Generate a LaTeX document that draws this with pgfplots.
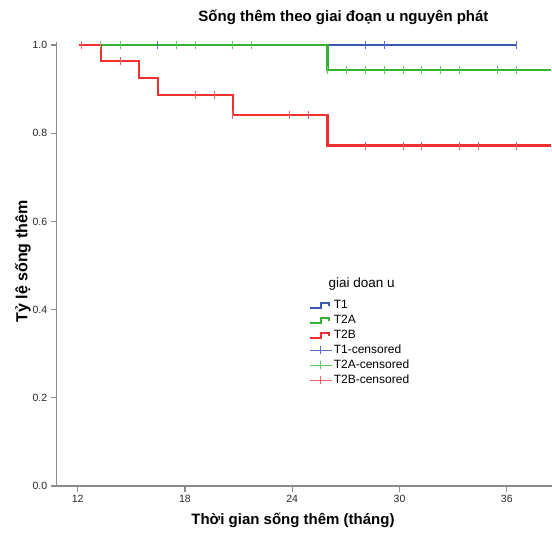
\documentclass[border=0pt]{standalone}
\usepackage{pgfplots}
\pgfplotsset{compat=1.18}
\usepackage{fontspec}
\setmainfont{Liberation Sans}
\definecolor{kmblue}{RGB}{62,88,178}
\definecolor{kmgreen}{RGB}{52,178,52}
\definecolor{kmred}{RGB}{238,48,48}
\definecolor{cblue}{RGB}{90,110,205}
\definecolor{cgreen}{RGB}{95,200,95}
\definecolor{cred}{RGB}{245,95,95}
\definecolor{axgray}{RGB}{140,140,140}
\pgfplotsset{
  stepleg/.style={legend image code/.code={\draw[##1,line width=2.2pt] (0pt,-2.5pt) -- (11pt,-2.5pt) -- (11pt,2.5pt) -- (19pt,2.5pt) -- (19pt,-1pt);}},
  censleg/.style={legend image code/.code={\draw[##1,line width=1pt] (0pt,0pt) -- (22pt,0pt) (11pt,-4pt) -- (11pt,4pt);}},
}
\begin{document}
\begin{tikzpicture}
\path[use as bounding box] (0pt,0pt) rectangle (552pt,537pt);
\begin{axis}[
  at={(56.7pt,51pt)}, anchor=south west,
  scale only axis, width=495.3pt, height=444.3pt,
  xmin=10.825, xmax=38.53, ymin=0, ymax=1.0075,
  clip=false,
  axis lines*=left,
  axis line style={draw=axgray, line width=1.3pt, -},
  tick align=outside, major tick length=6pt,
  tick style={draw=axgray, line width=1.2pt},
  xtick={12,18,24,30,36}, xticklabels={12,18,24,30,36},
  ytick={0,0.2,0.4,0.6,0.8,1}, yticklabels={0.0,0.2,0.4,0.6,0.8,1.0},
  ticklabel style={font=\fontsize{10.5}{12}\selectfont, text=black!85},
  xlabel={Thời gian sống thêm (tháng)},
  ylabel={Tỷ lệ sống thêm},
  xlabel style={at={(axis description cs:0.477,-0.0765)}, anchor=center, font=\bfseries\fontsize{15}{18}\selectfont},
  ylabel style={at={(axis description cs:-0.068,0.505)}, anchor=center, font=\bfseries\fontsize{16}{19}\selectfont},
  title={Sống thêm theo giai đoạn u nguyên phát},
  title style={at={(axis description cs:0.579,1.041)}, anchor=center, font=\bfseries\fontsize{15}{18}\selectfont},
  legend style={at={(axis description cs:0.5084,0.4243)}, anchor=north west, draw=none, fill=none,
    inner sep=0pt, row sep=0pt, font=\fontsize{12}{14}\selectfont,
    nodes={inner xsep=1.5pt, inner ysep=1.5pt, text height=9pt, text depth=3pt},
    /tikz/every even column/.append style={column sep=0pt}},
  legend cell align=left,
]
% survival step curves
\addplot[color=kmblue, line width=2.2pt, const plot, stepleg]
  coordinates {(12.07,1) (36.57,1)};
\addlegendentry{T1}
\addplot[color=kmgreen, line width=2.2pt, const plot, stepleg]
  coordinates {(12.07,1) (25.97,0.944) (38.5,0.944)};
\addlegendentry{T2A}
\addplot[color=kmred, line width=2.2pt, const plot, stepleg]
  coordinates {(12.07,1) (13.29,0.963) (15.43,0.925) (16.48,0.887) (20.67,0.842) (25.97,0.772) (38.5,0.772)};
\addlegendentry{T2B}
% censored marks
\addplot[color=cblue, only marks, mark=|, mark size=4pt, mark options={line width=1pt}, censleg]
  coordinates {(16.48,1) (28.08,1) (29.15,1) (36.57,1)};
\addlegendentry{T1-censored}
\addplot[color=cgreen, only marks, mark=|, mark size=4pt, mark options={line width=1pt}, censleg]
  coordinates {(13.29,1) (14.37,1) (17.54,1) (18.6,1) (20.67,1) (21.73,1)
    (25.97,0.944) (27.02,0.944) (28.08,0.944) (29.15,0.944) (30.2,0.944) (31.25,0.944) (32.31,0.944) (33.38,0.944) (35.5,0.944) (36.57,0.944)};
\addlegendentry{T2A-censored}
\addplot[color=cred, only marks, mark=|, mark size=4pt, mark options={line width=1pt}, censleg]
  coordinates {(12.22,1) (14.37,0.963) (18.6,0.887) (19.65,0.887) (20.67,0.842) (23.84,0.842) (24.9,0.842)
    (28.08,0.772) (30.2,0.772) (31.25,0.772) (33.38,0.772) (34.44,0.772) (36.57,0.772)};
\addlegendentry{T2B-censored}
\end{axis}
\node[anchor=west, font=\fontsize{13.5}{15}\selectfont] at (325pt,253pt) {giai doan u};
\end{tikzpicture}
\end{document}
